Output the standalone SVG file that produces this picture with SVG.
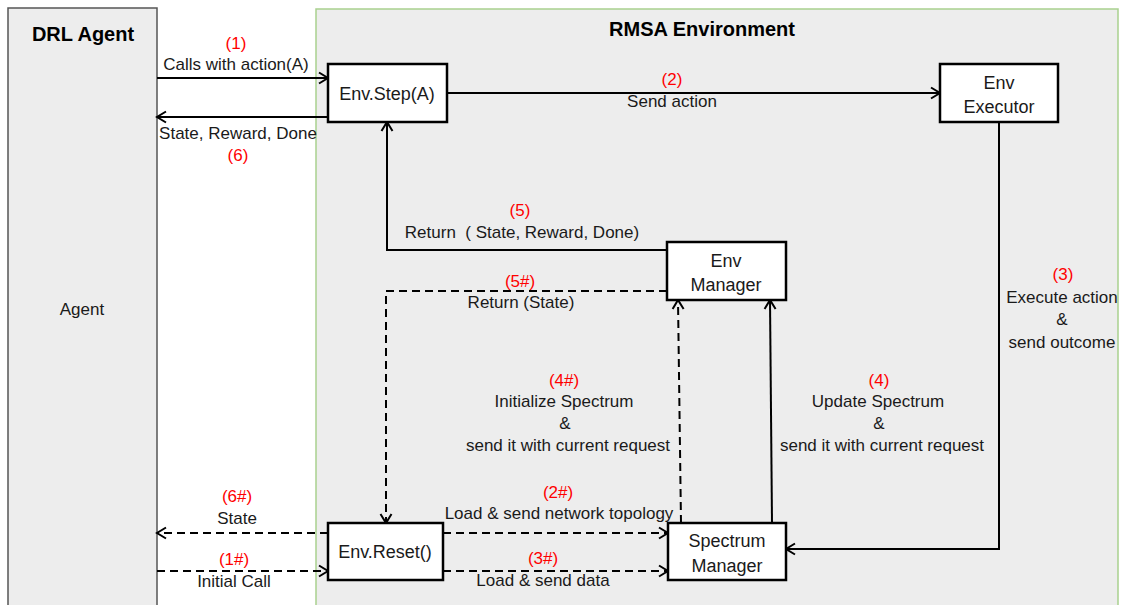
<svg xmlns="http://www.w3.org/2000/svg" width="1122" height="605" viewBox="0 0 1122 605">
<style>
.t{font-family:"Liberation Sans",Arial,sans-serif;font-size:17px;fill:#1a1a1a;text-anchor:middle;white-space:pre}
.r{fill:#ff0000}
.n{font-size:18px}
.b{font-weight:bold;font-size:20px;fill:#000}
.box{fill:#fff;stroke:#000;stroke-width:2.5}
.ln{fill:none;stroke:#000;stroke-width:2}
.d{stroke-dasharray:8 5}
</style>
<defs>
<marker id="arr" markerWidth="14" markerHeight="14" refX="12" refY="7" orient="auto" markerUnits="userSpaceOnUse">
<path d="M3,1.5 L12,7 L3,12.5" fill="none" stroke="#000" stroke-width="2"/>
</marker>
</defs>
<rect width="1122" height="605" fill="#fff"/>
<g id="drl-agent">
<rect x="8" y="8" width="149" height="610" fill="#ededed" stroke="#555" stroke-width="1.5"/>
<text class="t b" x="83" y="41">DRL Agent</text>
<text class="t" x="82" y="315">Agent</text>
</g>
<g id="rmsa-env">
<rect x="316" y="9" width="802" height="610" fill="#ededed" stroke="#a9d18e" stroke-width="1.5"/>
<text class="t b" x="702" y="36">RMSA Environment</text>
</g>
<g id="connectors">
<line class="ln" x1="157" y1="78" x2="328" y2="78" marker-end="url(#arr)"/>
<line class="ln" x1="328" y1="117" x2="157" y2="117" marker-end="url(#arr)"/>
<line class="ln" x1="447" y1="93" x2="940" y2="93" marker-end="url(#arr)"/>
<polyline class="ln" points="999,122 999,549 786,549" marker-end="url(#arr)"/>
<line class="ln" x1="772" y1="523" x2="770" y2="300" marker-end="url(#arr)"/>
<polyline class="ln" points="667,250 387,250 387,122" marker-end="url(#arr)"/>
<polyline class="ln d" points="667,291 386,291 386,523" marker-end="url(#arr)"/>
<line class="ln d" x1="681" y1="523" x2="678" y2="300" marker-end="url(#arr)"/>
<line class="ln d" x1="443" y1="533" x2="668" y2="533" marker-end="url(#arr)"/>
<line class="ln d" x1="443" y1="571" x2="668" y2="571" marker-end="url(#arr)"/>
<line class="ln d" x1="328" y1="533" x2="157" y2="533" marker-end="url(#arr)"/>
<line class="ln d" x1="157" y1="571" x2="328" y2="571" marker-end="url(#arr)"/>
<text class="t r" x="236" y="49">(1)</text>
<text class="t" x="236" y="70">Calls with action(A)</text>
<text class="t" x="238" y="139">State, Reward, Done</text>
<text class="t r" x="238" y="161">(6)</text>
<text class="t r" x="672" y="85">(2)</text>
<text class="t" x="672" y="107">Send action</text>
<text class="t r" x="1063" y="280">(3)</text>
<text class="t" x="1062" y="303">Execute action</text>
<text class="t" x="1062" y="325">&amp;</text>
<text class="t" x="1062" y="348">send outcome</text>
<text class="t r" x="879" y="386">(4)</text>
<text class="t" x="878" y="407">Update Spectrum</text>
<text class="t" x="879" y="429">&amp;</text>
<text class="t" x="882" y="451">send it with current request</text>
<text class="t r" x="564" y="386">(4#)</text>
<text class="t" x="564" y="407">Initialize Spectrum</text>
<text class="t" x="565" y="429">&amp;</text>
<text class="t" x="568" y="451">send it with current request</text>
<text class="t r" x="520" y="216">(5)</text>
<text class="t" x="522" y="238">Return  ( State, Reward, Done)</text>
<text class="t r" x="520" y="287">(5#)</text>
<text class="t" x="521" y="308">Return (State)</text>
<text class="t r" x="558" y="498">(2#)</text>
<text class="t" x="559" y="519">Load &amp; send network topology</text>
<text class="t r" x="543" y="564">(3#)</text>
<text class="t" x="543" y="586">Load &amp; send data</text>
<text class="t r" x="237" y="502">(6#)</text>
<text class="t" x="237" y="524">State</text>
<text class="t r" x="234" y="565">(1#)</text>
<text class="t" x="234" y="587">Initial Call</text>
</g>
<g id="env-step">
<rect class="box" x="328" y="64" width="119" height="58"/>
<text class="t n" x="387" y="100">Env.Step(A)</text>
</g>
<g id="env-executor">
<rect class="box" x="940" y="64" width="118" height="58"/>
<text class="t n" x="999" y="89">Env</text>
<text class="t n" x="999" y="113">Executor</text>
</g>
<g id="env-manager">
<rect class="box" x="667" y="242" width="119" height="58"/>
<text class="t n" x="726" y="267">Env</text>
<text class="t n" x="726" y="291">Manager</text>
</g>
<g id="env-reset">
<rect class="box" x="328" y="523" width="115" height="57"/>
<text class="t n" x="385" y="558">Env.Reset()</text>
</g>
<g id="spectrum-manager">
<rect class="box" x="668" y="523" width="118" height="57"/>
<text class="t n" x="727" y="547">Spectrum</text>
<text class="t n" x="727" y="572">Manager</text>
</g>
</svg>
